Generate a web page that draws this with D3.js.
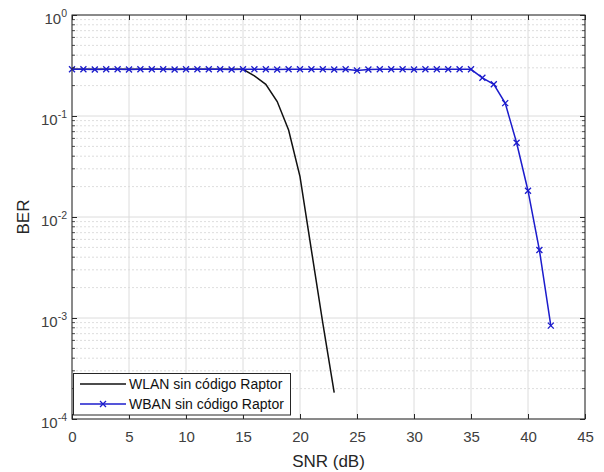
<!DOCTYPE html>
<html>
<head>
<meta charset="utf-8">
<script src="https://cdn.jsdelivr.net/npm/d3@7"></script>
<style>
  html, body { margin: 0; padding: 0; background: #fff; }
  svg { display: block; font-family: "Liberation Sans", Arial, Helvetica, sans-serif; }
</style>
</head>
<body>
<svg id="chart" width="604" height="472"></svg>
<script>
// SNR grid (dB) and measured bit error rates
const snrWlan = d3.range(0, 24);
const berWlan = [0.290, 0.290, 0.290, 0.290, 0.290, 0.290, 0.290, 0.290,
                 0.290, 0.290, 0.290, 0.290, 0.290, 0.290, 0.290, 0.290,
                 0.250, 0.206, 0.139, 0.0727, 0.0251, 0.0047, 0.00089, 0.000182];

const snrWban = d3.range(0, 43);
const berWban = [0.290, 0.290, 0.289, 0.290, 0.290, 0.289, 0.290, 0.290,
                 0.290, 0.289, 0.290, 0.290, 0.290, 0.290, 0.289, 0.290,
                 0.290, 0.290, 0.289, 0.290, 0.290, 0.290, 0.290, 0.289,
                 0.290, 0.282, 0.289, 0.290, 0.290, 0.290, 0.289, 0.290,
                 0.290, 0.290, 0.290, 0.290, 0.239, 0.206, 0.134, 0.0544,
                 0.0182, 0.00471, 0.00084];

const seriesNames = ["WLAN sin código Raptor", "WBAN sin código Raptor"];
const xTicks = [0, 5, 10, 15, 20, 25, 30, 35, 40, 45];
const yTickExponents = [0, -1, -2, -3, -4];
const xLabel = "SNR (dB)";
const yLabel = "BER";

const svg = d3.select("#chart");
const L = 72, R = 585, T = 15, B = 419;
const axisColor = "#262626";

const x = d3.scaleLinear().domain([0, 45]).range([L, R]);
const y = d3.scaleLog().domain([1e-4, 1]).range([B, T]);

// minor grid values inside each decade
const minorVals = [];
yTickExponents.slice(1).forEach(e => {
  for (let k = 2; k <= 9; k++) minorVals.push(k * Math.pow(10, e));
});
const majorVals = yTickExponents.map(e => Math.pow(10, e));

const grid = svg.append("g");
grid.selectAll(".ymin").data(minorVals).join("line")
  .attr("x1", L).attr("x2", R)
  .attr("y1", d => y(d)).attr("y2", d => y(d))
  .attr("stroke", "#d4d4d4").attr("stroke-width", 0.8)
  .attr("stroke-dasharray", "2,2");
grid.selectAll(".ymaj").data(majorVals).join("line")
  .attr("x1", L).attr("x2", R)
  .attr("y1", d => y(d)).attr("y2", d => y(d))
  .attr("stroke", "#dcdcdc").attr("stroke-width", 1);
grid.selectAll(".xmaj").data(xTicks).join("line")
  .attr("x1", d => x(d)).attr("x2", d => x(d))
  .attr("y1", T).attr("y2", B)
  .attr("stroke", "#dcdcdc").attr("stroke-width", 1);

// curves
const line = d3.line().x(d => x(d[0])).y(d => y(d[1]));
const wlanPts = snrWlan.map((s, i) => [s, berWlan[i]]);
const wbanPts = snrWban.map((s, i) => [s, berWban[i]]);

svg.append("path").datum(wlanPts).attr("d", line)
  .attr("fill", "none").attr("stroke", "#111").attr("stroke-width", 1.5);

const blue = "#1c1ccc";
svg.append("path").datum(wbanPts).attr("d", line)
  .attr("fill", "none").attr("stroke", blue).attr("stroke-width", 1.5);

const m = 3;
const marks = svg.append("g").attr("stroke", blue).attr("stroke-width", 1.3);
marks.selectAll("path").data(wbanPts).join("path")
  .attr("d", d => {
    const cx = x(d[0]), cy = y(d[1]);
    return `M${cx - m},${cy - m}L${cx + m},${cy + m}M${cx - m},${cy + m}L${cx + m},${cy - m}`;
  });

// axes with inward ticks on all four sides
const xAxisB = d3.axisBottom(x).tickValues(xTicks).tickSize(-5).tickPadding(12).tickFormat(d3.format("d"));
const gx = svg.append("g").attr("transform", `translate(0,${B})`).call(xAxisB);
gx.select(".domain").remove();
gx.selectAll("line").attr("stroke", axisColor);
gx.selectAll("text").attr("font-size", 15).attr("fill", "#404040")
  .attr("font-family", "Liberation Sans, Arial, sans-serif");

const xAxisT = d3.axisTop(x).tickValues(xTicks).tickSize(-5).tickFormat("");
const gxt = svg.append("g").attr("transform", `translate(0,${T})`).call(xAxisT);
gxt.select(".domain").remove();
gxt.selectAll("line").attr("stroke", axisColor);

const yAxisL = d3.axisLeft(y).tickValues(majorVals).tickSize(-5).tickFormat("");
const gy = svg.append("g").attr("transform", `translate(${L},0)`).call(yAxisL);
gy.select(".domain").remove();
gy.selectAll("line").attr("stroke", axisColor);

const yAxisR = d3.axisRight(y).tickValues(majorVals).tickSize(-5).tickFormat("");
const gyr = svg.append("g").attr("transform", `translate(${R},0)`).call(yAxisR);
gyr.select(".domain").remove();
gyr.selectAll("line").attr("stroke", axisColor);

// minor ticks on the log axis
svg.append("g").selectAll("line").data(minorVals).join("line")
  .attr("x1", L).attr("x2", L + 3).attr("y1", d => y(d)).attr("y2", d => y(d))
  .attr("stroke", axisColor).attr("stroke-width", 0.8);
svg.append("g").selectAll("line").data(minorVals).join("line")
  .attr("x1", R - 3).attr("x2", R).attr("y1", d => y(d)).attr("y2", d => y(d))
  .attr("stroke", axisColor).attr("stroke-width", 0.8);

// y tick labels as powers of ten
const yl = svg.append("g").attr("fill", "#404040");
yTickExponents.forEach(e => {
  const t = yl.append("text").attr("x", 67).attr("y", y(Math.pow(10, e)) + 9)
    .attr("text-anchor", "end").attr("font-size", 15);
  t.append("tspan").text("10");
  t.append("tspan").attr("dy", -7).attr("font-size", 10.5).text(String(e));
});

// plot frame
svg.append("rect").attr("x", L).attr("y", T).attr("width", R - L).attr("height", B - T)
  .attr("fill", "none").attr("stroke", axisColor).attr("stroke-width", 1);

// axis titles
svg.append("text").attr("x", (L + R) / 2).attr("y", 467)
  .attr("text-anchor", "middle").attr("font-size", 17).attr("fill", "#262626").text(xLabel);
svg.append("text").attr("transform", `translate(29,${(T + B) / 2}) rotate(-90)`)
  .attr("text-anchor", "middle").attr("font-size", 17).attr("fill", "#262626").text(yLabel);

// legend
const lg = svg.append("g");
lg.append("rect").attr("x", 73.5).attr("y", 373.5).attr("width", 217).attr("height", 41.5)
  .attr("fill", "#fff").attr("stroke", axisColor).attr("stroke-width", 1);
const legendRows = [
  { name: seriesNames[0], color: "#111", marker: false, yy: 384 },
  { name: seriesNames[1], color: blue, marker: true, yy: 404 }
];
legendRows.forEach(r => {
  lg.append("line").attr("x1", 80).attr("x2", 126).attr("y1", r.yy).attr("y2", r.yy)
    .attr("stroke", r.color).attr("stroke-width", 1.5);
  if (r.marker) {
    const cx = 103, cy = r.yy;
    lg.append("path")
      .attr("d", `M${cx - m},${cy - m}L${cx + m},${cy + m}M${cx - m},${cy + m}L${cx + m},${cy - m}`)
      .attr("stroke", r.color).attr("stroke-width", 1.3);
  }
  lg.append("text").attr("x", 129).attr("y", r.yy + 5).attr("font-size", 14)
    .attr("fill", "#111").text(r.name);
});
</script>
</body>
</html>
